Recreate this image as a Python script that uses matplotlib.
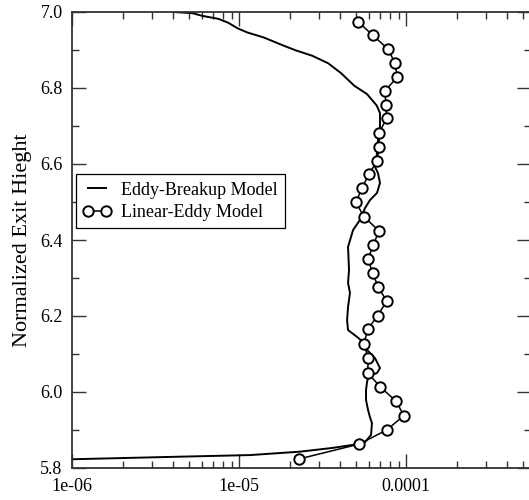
import matplotlib.pyplot as plt
from matplotlib.ticker import LogLocator, FixedLocator, FixedFormatter, MultipleLocator, NullFormatter

plt.rcParams['font.family'] = ['Liberation Serif', 'DejaVu Serif']

# Eddy-Breakup model (solid line)
ebu_x = [4.00e-6, 5.24e-6, 5.98e-6, 7.49e-6, 8.56e-6, 9.78e-6, 1.12e-5, 1.40e-5,
         1.83e-5, 2.18e-5, 2.73e-5, 3.41e-5, 4.07e-5, 4.88e-5, 5.82e-5, 6.65e-5,
         6.96e-5, 6.96e-5, 6.77e-5, 6.68e-5, 6.50e-5, 6.77e-5, 6.96e-5, 6.68e-5,
         6.06e-5, 5.66e-5, 5.28e-5, 4.80e-5, 4.48e-5, 4.54e-5, 4.48e-5, 4.60e-5,
         4.48e-5, 4.42e-5, 4.48e-5, 5.07e-5, 5.50e-5, 5.82e-5, 6.06e-5, 6.50e-5,
         6.96e-5, 6.68e-5, 6.23e-5, 5.90e-5, 5.82e-5, 5.74e-5, 5.74e-5, 5.90e-5,
         6.06e-5, 6.23e-5, 6.15e-5, 5.66e-5, 4.80e-5, 3.64e-5, 2.31e-5, 1.16e-5,
         3.69e-6, 1.0e-6]
ebu_y = [7.000, 6.997, 6.990, 6.982, 6.972, 6.957, 6.946, 6.933,
         6.912, 6.899, 6.885, 6.865, 6.839, 6.806, 6.784, 6.754,
         6.734, 6.698, 6.663, 6.629, 6.592, 6.576, 6.550, 6.524,
         6.505, 6.484, 6.453, 6.426, 6.382, 6.321, 6.287, 6.261,
         6.224, 6.189, 6.163, 6.145, 6.132, 6.111, 6.103, 6.089,
         6.063, 6.050, 6.045, 6.037, 6.026, 6.005, 5.979, 5.953,
         5.934, 5.918, 5.887, 5.868, 5.861, 5.853, 5.843, 5.834,
         5.829, 5.823]

# Linear-Eddy model (line with open circles)
lem_x = [5.16e-5, 6.29e-5, 7.80e-5, 8.56e-5, 8.83e-5, 7.45e-5, 7.55e-5, 7.63e-5,
         6.87e-5, 6.87e-5, 6.70e-5, 5.98e-5, 5.41e-5, 5.00e-5, 5.58e-5, 6.87e-5,
         6.34e-5, 5.92e-5, 6.29e-5, 6.80e-5, 7.63e-5, 6.74e-5, 5.87e-5, 5.58e-5,
         5.92e-5, 5.87e-5, 6.96e-5, 8.67e-5, 9.68e-5, 7.63e-5, 5.23e-5, 2.29e-5]
lem_y = [6.974, 6.939, 6.902, 6.865, 6.828, 6.793, 6.755, 6.720,
         6.682, 6.646, 6.609, 6.573, 6.536, 6.499, 6.461, 6.424,
         6.387, 6.350, 6.312, 6.276, 6.239, 6.201, 6.165, 6.126,
         6.089, 6.051, 6.014, 5.976, 5.938, 5.900, 5.863, 5.824]

xticks = [1e-6, 1e-5, 1e-4]
xtick_labels = ['1e-06', '1e-05', '0.0001']

fig = plt.figure(figsize=(5.29, 5.0), dpi=100)
ax = fig.add_axes([0.1367, 0.064, 0.867, 0.912])

ax.plot(ebu_x, ebu_y, color='black', linewidth=1.4, label='Eddy-Breakup Model')
ax.plot(lem_x, lem_y, color='black', linewidth=1.1, marker='o', markersize=7.5,
        markerfacecolor='white', markeredgecolor='black', markeredgewidth=1.4,
        label='Linear-Eddy Model')

ax.set_xscale('log')
ax.set_xlim(1e-6, 5.58e-4)
ax.set_ylim(5.8, 7.0)

ax.xaxis.set_major_locator(FixedLocator(xticks))
ax.xaxis.set_major_formatter(FixedFormatter(xtick_labels))
ax.xaxis.set_minor_locator(LogLocator(base=10, subs=range(2, 10)))
ax.xaxis.set_minor_formatter(NullFormatter())
ax.yaxis.set_major_locator(MultipleLocator(0.2))
ax.yaxis.set_minor_locator(MultipleLocator(0.1))
ax.yaxis.set_major_formatter(plt.FormatStrFormatter('%.1f'))

ax.tick_params(which='both', direction='in', top=True, right=True, labelsize=13,
               width=1.0, colors='#333333', labelcolor='black')
ax.tick_params(which='major', length=10, pad=7)
ax.tick_params(which='minor', length=5)
for s in ax.spines.values():
    s.set_linewidth(1.3)
    s.set_color('#333333')

ax.set_ylabel('Normalized Exit Hieght', fontsize=16, labelpad=6)

leg = ax.legend(loc='upper left', bbox_to_anchor=(0.007, 0.644), fontsize=13,
                numpoints=2, handlelength=1.6, handletextpad=0.5,
                borderpad=0.4, labelspacing=0.3, fancybox=False,
                framealpha=1, edgecolor='black', borderaxespad=0)
leg.get_frame().set_linewidth(0.9)

fig.savefig('out.png', dpi=100)
